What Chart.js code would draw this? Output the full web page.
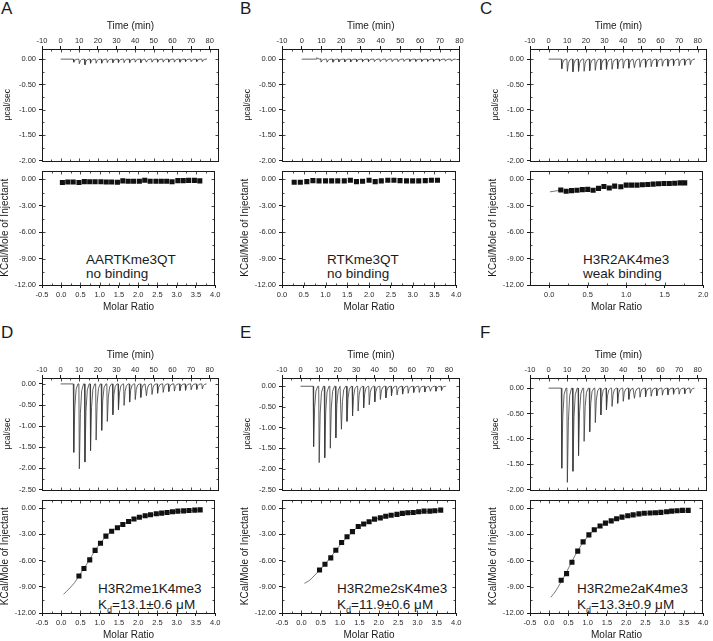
<!DOCTYPE html>
<html lang="en">
<head>
<meta charset="UTF-8">
<title>ITC titrations</title>
<script src="https://cdn.jsdelivr.net/npm/chart.js"></script>
<style>
  body { margin: 0; background: #fff; width: 713px; height: 641px; position: relative; overflow: hidden;
         font-family: "Liberation Sans", Arial, sans-serif; color: #1a1a1a; }
  canvas { position: absolute; }
  .tag { position: absolute; font-size: 17px; line-height: 17px; }
  .note { position: absolute; font-size: 13.5px; white-space: nowrap; }
  .sub { font-size: 9px; position: relative; top: 4px; }
</style>
</head>
<body>
<div class="tag" style="left:1px;top:0px">A</div>
<div class="tag" style="left:240px;top:0px">B</div>
<div class="tag" style="left:480px;top:0px">C</div>
<div class="tag" style="left:1px;top:324px">D</div>
<div class="tag" style="left:240px;top:324px">E</div>
<div class="tag" style="left:480px;top:324px">F</div>

<div class="note" style="left:86px;top:253px;line-height:14px">AARTKme3QT<br>no binding</div>
<div class="note" style="left:327px;top:253px;line-height:14px">RTKme3QT<br>no binding</div>
<div class="note" style="left:583px;top:253px;line-height:14px">H3R2AK4me3<br>weak binding</div>
<div class="note" style="left:98px;top:581px;line-height:16px">H3R2me1K4me3<br>K<span class="sub">d</span>=13.1±0.6 μM</div>
<div class="note" style="left:337px;top:581px;line-height:16px">H3R2me2sK4me3<br>K<span class="sub">d</span>=11.9±0.6 μM</div>
<div class="note" style="left:577px;top:581px;line-height:16px">H3R2me2aK4me3<br>K<span class="sub">d</span>=13.3±0.9 μM</div>

<script>
// injection times (min)
var injTimes = [6.8, 9.8, 12.8, 15.8, 18.8, 21.8, 24.8, 27.8, 30.8, 33.8, 36.8, 39.8,
                42.8, 45.8, 48.8, 51.8, 54.8, 57.8, 60.8, 63.8, 66.8, 69.8, 72.8, 75.8];
var bTimes = [7.4, 9.6, 12.6, 15.6, 18.6, 21.6, 24.6, 27.6, 30.6, 33.6, 36.6, 39.6,
              42.6, 45.6, 48.6, 51.6, 54.6, 57.6, 60.6, 63.6, 66.6, 69.6, 72.6, 75.6];

// peak heat rate of each injection (ucal/sec)
var aPeaks = [-0.06, -0.09, -0.11, -0.08, -0.08, -0.08, -0.07, -0.07, -0.07, -0.07, -0.07, -0.06,
              -0.07, -0.06, -0.06, -0.06, -0.06, -0.06, -0.06, -0.06, -0.05, -0.05, -0.05, -0.05];
var bPeaks = [0.03, -0.06, -0.06, -0.06, -0.055, -0.055, -0.055, -0.05, -0.05, -0.05, -0.05, -0.05,
              -0.05, -0.05, -0.05, -0.045, -0.045, -0.045, -0.045, -0.045, -0.045, -0.04, -0.04, -0.04];
var cPeaks = [-0.19, -0.24, -0.25, -0.24, -0.24, -0.23, -0.22, -0.21, -0.20, -0.20, -0.19, -0.18,
              -0.18, -0.17, -0.16, -0.16, -0.15, -0.15, -0.14, -0.14, -0.13, -0.13, -0.12, -0.11];
var dPeaks = [-1.62, -2.01, -1.85, -1.58, -1.33, -1.10, -0.89, -0.73, -0.61, -0.51, -0.43, -0.37,
              -0.32, -0.28, -0.25, -0.22, -0.20, -0.18, -0.17, -0.16, -0.15, -0.14, -0.13, -0.12];
var ePeaks = [-1.46, -1.85, -1.73, -1.50, -1.25, -1.04, -0.85, -0.72, -0.60, -0.52, -0.45, -0.38,
              -0.32, -0.28, -0.23, -0.21, -0.19, -0.17, -0.15, -0.15, -0.14, -0.12, -0.12, -0.10];
var fPeaks = [-1.58, -1.86, -1.64, -1.33, -1.05, -0.86, -0.68, -0.53, -0.43, -0.36, -0.30, -0.26,
              -0.22, -0.20, -0.18, -0.17, -0.16, -0.15, -0.14, -0.13, -0.12, -0.12, -0.11, -0.10];

// integrated heats (kcal/mol of injectant) vs molar ratio
var aRatio = [0.03, 0.17, 0.31, 0.46, 0.60, 0.74, 0.88, 1.03, 1.17, 1.31, 1.46, 1.60, 1.74,
              1.88, 2.03, 2.17, 2.31, 2.46, 2.60, 2.74, 2.88, 3.03, 3.17, 3.31, 3.46, 3.60];
var aHeat = [-0.37, -0.30, -0.30, -0.37, -0.26, -0.27, -0.27, -0.27, -0.30, -0.30, -0.33, -0.18, -0.22,
             -0.22, -0.22, -0.11, -0.22, -0.22, -0.22, -0.22, -0.27, -0.15, -0.15, -0.12, -0.12, -0.18];
var bRatio = [0.28, 0.42, 0.57, 0.71, 0.85, 1.00, 1.14, 1.28, 1.43, 1.57, 1.71, 1.85,
              2.00, 2.14, 2.28, 2.43, 2.57, 2.71, 2.86, 3.00, 3.14, 3.29, 3.43, 3.57];
var bHeat = [-0.33, -0.33, -0.26, -0.15, -0.18, -0.18, -0.18, -0.18, -0.18, -0.11, -0.26, -0.22,
             -0.11, -0.26, -0.18, -0.11, -0.11, -0.15, -0.18, -0.18, -0.18, -0.15, -0.11, -0.11];
var cRatio = [0.15, 0.22, 0.29, 0.36, 0.43, 0.50, 0.57, 0.64, 0.71, 0.78, 0.85, 0.93,
              1.00, 1.07, 1.14, 1.21, 1.28, 1.35, 1.42, 1.49, 1.56, 1.63, 1.70, 1.76];
var cHeat = [-1.21, -1.36, -1.28, -1.25, -1.17, -1.14, -1.25, -1.03, -0.81, -0.99, -0.77, -0.84,
             -0.66, -0.66, -0.66, -0.62, -0.59, -0.55, -0.51, -0.48, -0.48, -0.44, -0.40, -0.40];
var cFitRatio = [0.01, 0.15];
var cFitHeat = [-1.42, -1.24];
var dRatio = [0.46, 0.59, 0.74, 0.88, 1.02, 1.16, 1.31, 1.46, 1.60, 1.75, 1.89, 2.03,
              2.18, 2.32, 2.47, 2.61, 2.75, 2.89, 3.03, 3.18, 3.32, 3.47, 3.61];
var dHeat = [-7.77, -6.91, -5.91, -4.83, -4.01, -3.20, -2.64, -2.23, -1.86, -1.52, -1.23, -1.04,
             -0.86, -0.74, -0.63, -0.56, -0.48, -0.41, -0.33, -0.30, -0.26, -0.22, -0.19];
var dFitRatio = [0.06, 0.2, 0.35, 0.5, 0.65, 0.8, 0.95, 1.1, 1.25, 1.4, 1.6, 1.8, 2.0, 2.25, 2.5, 2.75, 3.0, 3.3, 3.6];
var dFitHeat = [-9.85, -9.25, -8.5, -7.5, -6.5, -5.4, -4.4, -3.55, -2.85, -2.35, -1.85, -1.45, -1.12, -0.85, -0.65, -0.5, -0.38, -0.28, -0.22];
var eRatio = [0.47, 0.61, 0.76, 0.89, 1.04, 1.18, 1.32, 1.47, 1.61, 1.75, 1.89, 2.04,
              2.18, 2.32, 2.47, 2.61, 2.75, 2.89, 3.03, 3.17, 3.32, 3.45, 3.60];
var eHeat = [-7.08, -6.42, -5.69, -4.81, -3.93, -3.27, -2.68, -2.09, -1.80, -1.54, -1.25, -1.10,
             -0.92, -0.81, -0.70, -0.59, -0.51, -0.48, -0.40, -0.33, -0.33, -0.29, -0.22];
var eFitRatio = [0.08, 0.2, 0.35, 0.5, 0.65, 0.8, 0.95, 1.1, 1.25, 1.4, 1.6, 1.8, 2.0, 2.25, 2.5, 2.75, 3.0, 3.3, 3.6];
var eFitHeat = [-8.6, -8.3, -7.65, -6.95, -6.2, -5.35, -4.5, -3.7, -3.0, -2.4, -1.85, -1.45, -1.15, -0.87, -0.68, -0.53, -0.42, -0.33, -0.26];
var fRatio = [0.31, 0.45, 0.59, 0.74, 0.88, 1.03, 1.17, 1.32, 1.46, 1.61, 1.75, 1.89,
              2.04, 2.18, 2.33, 2.47, 2.62, 2.76, 2.90, 3.05, 3.18, 3.32, 3.46, 3.61];
var fHeat = [-8.25, -7.49, -6.18, -4.91, -3.85, -3.05, -2.47, -2.04, -1.71, -1.45, -1.20, -1.02,
             -0.87, -0.76, -0.65, -0.58, -0.55, -0.51, -0.47, -0.40, -0.33, -0.29, -0.25, -0.25];
var fFitRatio = [0.04, 0.15, 0.3, 0.45, 0.6, 0.75, 0.9, 1.05, 1.2, 1.4, 1.6, 1.8, 2.0, 2.25, 2.5, 2.75, 3.0, 3.3, 3.6];
var fFitHeat = [-10.2, -9.6, -8.5, -7.3, -6.0, -4.8, -3.8, -3.0, -2.4, -1.85, -1.45, -1.15, -0.93, -0.73, -0.6, -0.5, -0.42, -0.34, -0.28];

// shape of one injection peak: [minutes after injection, fraction of peak]
var peakShape = [[0, 0], [0.25, 1], [0.8, 0.35], [1.5, 0.08], [2.5, 0]];

var ink = '#1a1a1a';
var fam = '"Liberation Sans", Arial, sans-serif';

function trace(times, peaks, tEnd) {
    var pts = [{x: 0, y: 0}];
    for (var i = 0; i < times.length; i++) {
        peakShape.forEach(function (p) {
            pts.push({x: times[i] + p[0], y: peaks[i] * p[1]});
        });
    }
    pts.push({x: tEnd, y: 0});
    return pts;
}

function pairs(xs, ys) {
    return xs.map(function (x, i) { return {x: x, y: ys[i]}; });
}

// box frame plus small inward ticks (major and half-step minor) on all four sides
var framePlugin = {
    id: 'frame',
    afterDraw: function (chart) {
        var a = chart.chartArea, ctx = chart.ctx;
        var L = Math.round(a.left) + 0.5, R = Math.round(a.right) - 0.5;
        var T = Math.round(a.top) + 0.5, B = Math.round(a.bottom) + 0.5;
        ctx.save();
        ctx.strokeStyle = ink;
        ctx.lineWidth = 1;
        ctx.strokeRect(L, T, R - L, B - T);
        ctx.lineWidth = 0.8;
        ctx.beginPath();
        function marks(scale, cb) {
            var t = scale.ticks.map(function (k) { return k.value; });
            for (var i = 0; i < t.length; i++) {
                cb(scale.getPixelForValue(t[i]), 3);
                if (i + 1 < t.length) cb(scale.getPixelForValue((t[i] + t[i + 1]) / 2), 2);
            }
        }
        marks(chart.scales.x, function (px, len) {
            if (px < L || px > R) return;
            px = Math.round(px) + 0.5;
            ctx.moveTo(px, T); ctx.lineTo(px, T + len);
            ctx.moveTo(px, B); ctx.lineTo(px, B - len);
        });
        marks(chart.scales.y, function (py, len) {
            if (py < T || py > B) return;
            py = Math.round(py) + 0.5;
            ctx.moveTo(L, py); ctx.lineTo(L + len, py);
            ctx.moveTo(R, py); ctx.lineTo(R - len, py);
        });
        ctx.stroke();
        ctx.restore();
    }
};

function place(left, top, w, h) {
    var c = document.createElement('canvas');
    c.width = w; c.height = h;
    c.style.left = left + 'px';
    c.style.top = top + 'px';
    document.body.appendChild(c);
    return c;
}

function axisTicks(extra) {
    var t = {font: {family: fam, size: 7.5}, color: '#2a2a2a', includeBounds: false, autoSkip: false, maxRotation: 0};
    for (var k in extra) t[k] = extra[k];
    return t;
}

var gridOpts = {drawOnChartArea: false, tickLength: 3, color: ink};

function heatChart(box, tMax, yMin, yMax, data) {
    var c = place(box[0] - 42, box[1] - 36, box[2] - box[0] + 46, box[3] - box[1] + 38);
    new Chart(c, {
        type: 'scatter',
        data: {datasets: [{data: data, showLine: true, borderColor: '#3a3a3a', borderWidth: 0.8,
                           pointRadius: 0, tension: 0}]},
        options: {
            responsive: false, animation: false,
            layout: {padding: {left: 0, right: 4, top: 0, bottom: 2}},
            plugins: {legend: {display: false}, tooltip: {enabled: false}},
            scales: {
                x: {type: 'linear', position: 'top', min: -10, max: tMax,
                    afterFit: function (s) { s.height = 36; },
                    ticks: axisTicks({stepSize: 10, padding: 0.3}),
                    grid: gridOpts, border: {display: false},
                    title: {display: true, text: 'Time (min)', color: ink,
                            font: {family: fam, size: 10}, padding: {top: 7.5, bottom: 0}}},
                y: {min: yMin, max: yMax,
                    afterFit: function (s) { s.width = 42; },
                    ticks: axisTicks({stepSize: 0.5, padding: 3,
                                      callback: function (v) { return v.toFixed(2); }}),
                    grid: gridOpts, border: {display: false},
                    title: {display: true, text: 'μcal/sec', color: ink,
                            font: {family: fam, size: 8.5, lineHeight: 1}, padding: {top: 3, bottom: 0}}}
            }
        },
        plugins: [framePlugin]
    });
}

function bindChart(box, rMin, rMax, pts, fit) {
    var c = place(box[0] - 42, box[1] - 3, box[2] - box[0] + 46, box[3] - box[1] + 31);
    var sets = [{data: pts, pointStyle: 'rect', pointRadius: 3.6, backgroundColor: '#111',
                 borderColor: '#111', borderWidth: 0, showLine: false}];
    if (fit) {
        sets.push({data: fit, showLine: true, borderColor: '#555', borderWidth: 0.8, pointRadius: 0,
                   cubicInterpolationMode: 'monotone'});
    }
    new Chart(c, {
        type: 'scatter',
        data: {datasets: sets},
        options: {
            responsive: false, animation: false,
            layout: {padding: {left: 0, right: 4, top: 3, bottom: 0}},
            plugins: {legend: {display: false}, tooltip: {enabled: false}},
            scales: {
                x: {type: 'linear', position: 'bottom', min: rMin, max: rMax,
                    afterFit: function (s) { s.height = 28; },
                    ticks: axisTicks({stepSize: 0.5, padding: 2.6,
                                      callback: function (v) { return v.toFixed(1); }}),
                    grid: gridOpts, border: {display: false},
                    title: {display: true, text: 'Molar Ratio', color: ink,
                            font: {family: fam, size: 10}, padding: {top: 0, bottom: 0}}},
                y: {min: -12, max: 1,
                    afterFit: function (s) { s.width = 42; },
                    ticks: axisTicks({stepSize: 3, padding: 3,
                                      callback: function (v) { return v.toFixed(2); }}),
                    grid: gridOpts, border: {display: false},
                    title: {display: true, text: 'KCal/Mole of Injectant', color: ink,
                            font: {family: fam, size: 10, lineHeight: 1}, padding: {top: 0, bottom: 0}}}
            }
        },
        plugins: [framePlugin]
    });
}

// row 1
heatChart([42, 49, 219, 166], 85, -2.0, 0.2, trace(injTimes, aPeaks, 78));
bindChart([42, 166, 219, 285], -0.5, 4.0, pairs(aRatio, aHeat), null);
heatChart([282, 49, 460, 166], 80, -2.0, 0.2, trace(bTimes, bPeaks, 78));
bindChart([282, 166, 460, 285], 0.0, 4.0, pairs(bRatio, bHeat), null);
heatChart([530, 49, 707, 166], 85, -2.0, 0.2, trace(injTimes, cPeaks, 78));
bindChart([530, 166, 707, 285], -0.25, 2.0, pairs(cRatio, cHeat), pairs(cFitRatio, cFitHeat));

// row 2
heatChart([42, 378, 219, 495], 85, -2.5, 0.14, trace(injTimes, dPeaks, 78.5));
bindChart([42, 495, 219, 613], -0.5, 4.0, pairs(dRatio, dHeat), pairs(dFitRatio, dFitHeat));
heatChart([282, 378, 460, 495], 86, -2.5, 0.2, trace(injTimes, ePeaks, 78.5));
bindChart([282, 495, 460, 613], -0.5, 4.0, pairs(eRatio, eHeat), pairs(eFitRatio, eFitHeat));
heatChart([530, 378, 707, 495], 85, -2.0, 0.2, trace(injTimes, fPeaks, 78.5));
bindChart([530, 495, 707, 613], -0.5, 4.0, pairs(fRatio, fHeat), pairs(fFitRatio, fFitHeat));
</script>
</body>
</html>
